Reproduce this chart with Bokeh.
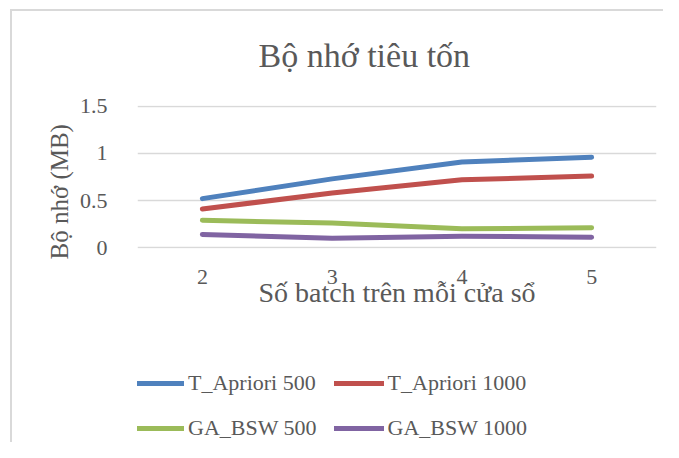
from bokeh.plotting import figure
from bokeh.models import Legend, LegendItem, Title, FactorRange
from bokeh.layouts import column
from bokeh.embed import file_html
from bokeh.resources import INLINE

batches = ["2", "3", "4", "5"]
t_apriori_500 = [0.52, 0.73, 0.91, 0.96]
t_apriori_1000 = [0.41, 0.58, 0.72, 0.76]
ga_bsw_500 = [0.29, 0.26, 0.20, 0.21]
ga_bsw_1000 = [0.14, 0.10, 0.12, 0.11]
series_names = ["T_Apriori 500", "T_Apriori 1000", "GA_BSW 500", "GA_BSW 1000"]
colors = ["#4F81BD", "#C0504D", "#9BBB59", "#8064A2"]
all_series = [t_apriori_500, t_apriori_1000, ga_bsw_500, ga_bsw_1000]

FONT = "Liberation Serif"
GRAY = "#595959"
BORDER = "#d9d9d9"

p = figure(
    frame_width=519, frame_height=143,
    x_range=FactorRange(*batches, range_padding=0),
    y_range=(-0.01, 1.51),
    output_backend="svg", toolbar_location=None,
    min_border_left=137, min_border_right=7, min_border_top=105, min_border_bottom=82,
    styles={"background": f"linear-gradient({BORDER},{BORDER}) 10px 9px / 100% 2px no-repeat, "
                          f"linear-gradient({BORDER},{BORDER}) 10px 9px / 2px 100% no-repeat, white"},
)
p.outline_line_color = None
p.background_fill_alpha = 0
p.border_fill_alpha = 0

p.xgrid.grid_line_color = None
p.ygrid.grid_line_color = BORDER
p.ygrid.grid_line_width = 1.5

p.yaxis.ticker = [0, 0.5, 1, 1.5]
p.yaxis.major_label_overrides = {0: "0", 0.5: "0.5", 1: "1", 1.5: "1.5"}
for ax in (p.xaxis[0], p.yaxis[0]):
    ax.axis_line_color = None
    ax.major_tick_line_color = None
    ax.minor_tick_line_color = None
    ax.major_label_text_font = FONT
    ax.major_label_text_font_size = "22px"
    ax.major_label_text_color = GRAY
p.yaxis.major_label_standoff = 24
p.xaxis.major_label_standoff = 15
p.xaxis.axis_label = "Số batch trên mỗi cửa sổ"
p.xaxis.axis_label_text_font = FONT
p.xaxis.axis_label_text_font_size = "28px"
p.xaxis.axis_label_text_font_style = "normal"
p.xaxis.axis_label_text_color = GRAY
p.xaxis.axis_label_standoff = -10

for ys, c in zip(all_series, colors):
    p.line(x=batches, y=ys, line_color=c, line_width=5, line_cap="round", line_join="round")

p.title.text = "Bộ nhớ tiêu tốn"
p.title.text_font = FONT
p.title.text_font_size = "34px"
p.title.text_font_style = "normal"
p.title.text_color = GRAY
p.title.align = "left"
p.title.offset = 121
p.title.standoff = 64

ylab = Title(text="Bộ nhớ (MB)", text_font=FONT, text_font_size="25px",
             text_font_style="normal", text_color=GRAY, align="left", offset=-11, standoff=8)
p.add_layout(ylab, "left")

# legend strip below the chart (series drawn out of view so the legend has glyphs)
q = figure(
    width=663, height=112, x_range=FactorRange(*batches), y_range=(5, 6),
    output_backend="svg", toolbar_location=None,
    min_border=0, min_border_left=0, min_border_right=0, min_border_top=0, min_border_bottom=0,
    styles={"background": f"linear-gradient({BORDER},{BORDER}) 10px 0px / 2px 100% no-repeat, white"},
)
q.axis.visible = False
q.grid.visible = False
q.outline_line_color = None
q.background_fill_alpha = 0
q.border_fill_alpha = 0

legend_renderers = [q.line(x=batches, y=ys, line_color=c, line_width=5, line_cap="round")
                    for ys, c in zip(all_series, colors)]
legend = Legend(
    items=[LegendItem(label=n, renderers=[r]) for n, r in zip(series_names, legend_renderers)],
    location=(-3, 0), orientation="horizontal", ncols=2,
    label_text_font=FONT, label_text_font_size="22px", label_text_color=GRAY,
    glyph_width=50, glyph_height=28, label_height=28, label_standoff=4,
    spacing=17, padding=0, margin=0, border_line_color=None, background_fill_alpha=0,
)
q.add_layout(legend, "center")

open("out.html", "w").write(file_html(column(p, q, spacing=0), INLINE))
